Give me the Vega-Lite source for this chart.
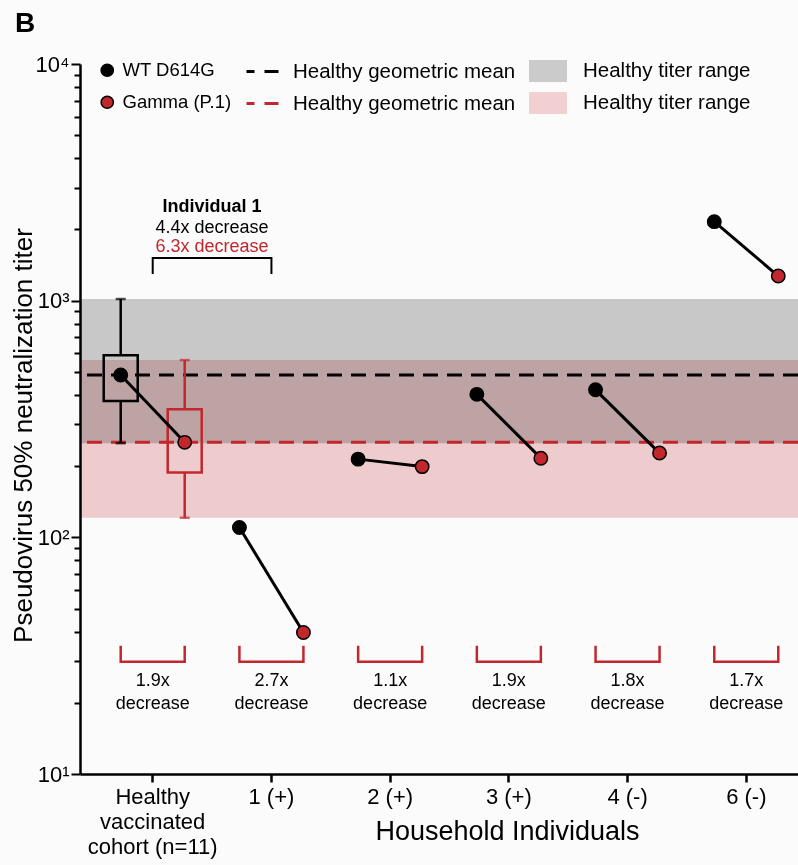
{
  "$schema": "https://vega.github.io/schema/vega-lite/v6.json",
  "width": 718,
  "height": 710,
  "autosize": {"type": "none"},
  "padding": {"left": 80, "top": 64, "right": 0, "bottom": 91},
  "background": "#fbfbfb",
  "title": {"text": "B", "anchor": "start", "frame": "group", "fontSize": 28, "fontWeight": "bold", "color": "#000000", "dx": -65, "offset": 14},
  "config": {
    "font": "Liberation Sans",
    "view": {"stroke": null},
    "axis": {"grid": false, "domainColor": "#000000", "tickColor": "#000000", "labelColor": "#000000", "titleColor": "#000000", "labelFontSize": 22, "titleFontSize": 26, "titleFontWeight": "normal", "domainWidth": 2.5, "tickWidth": 2},
    "legend": {"labelFontSize": 19, "labelColor": "#000000", "padding": 0, "orient": "none", "labelLimit": 400}
  },
  "datasets": {
    "points": [
      {"individual": "Healthy vaccinated cohort (n=11)", "variant": "WT D614G", "titer": 485},
      {"individual": "Healthy vaccinated cohort (n=11)", "variant": "Gamma (P.1)", "titer": 252},
      {"individual": "1 (+)", "variant": "WT D614G", "titer": 110},
      {"individual": "1 (+)", "variant": "Gamma (P.1)", "titer": 39.6},
      {"individual": "2 (+)", "variant": "WT D614G", "titer": 214},
      {"individual": "2 (+)", "variant": "Gamma (P.1)", "titer": 199},
      {"individual": "3 (+)", "variant": "WT D614G", "titer": 402},
      {"individual": "3 (+)", "variant": "Gamma (P.1)", "titer": 216},
      {"individual": "4 (-)", "variant": "WT D614G", "titer": 420},
      {"individual": "4 (-)", "variant": "Gamma (P.1)", "titer": 227},
      {"individual": "6 (-)", "variant": "WT D614G", "titer": 2157},
      {"individual": "6 (-)", "variant": "Gamma (P.1)", "titer": 1271}
    ],
    "box": [
      {"individual": "Healthy vaccinated cohort (n=11)", "variant": "WT D614G", "min": 250, "q1": 377, "q3": 588, "max": 1016},
      {"individual": "Healthy vaccinated cohort (n=11)", "variant": "Gamma (P.1)", "min": 121, "q1": 188, "q3": 348, "max": 561}
    ],
    "folds": [
      {"individual": "Healthy vaccinated cohort (n=11)", "label": "1.9x decrease"},
      {"individual": "1 (+)", "label": "2.7x decrease"},
      {"individual": "2 (+)", "label": "1.1x decrease"},
      {"individual": "3 (+)", "label": "1.9x decrease"},
      {"individual": "4 (-)", "label": "1.8x decrease"},
      {"individual": "6 (-)", "label": "1.7x decrease"}
    ],
    "bands": [
      {"band": "WT range", "lo": 250, "hi": 1016},
      {"band": "Gamma range", "lo": 121, "hi": 561}
    ],
    "means": [
      {"series": "WT mean", "titer": 485},
      {"series": "Gamma mean", "titer": 252}
    ],
    "ann": [
      {"individual": "Healthy vaccinated cohort (n=11)"},
      {"individual": "1 (+)"}
    ]
  },
  "layer": [
    {
      "data": {"name": "bands"},
      "mark": {"type": "rect", "blend": "multiply"},
      "encoding": {
        "y": {"field": "lo", "type": "quantitative",
          "scale": {"type": "log", "domain": [10, 10000], "nice": false},
          "axis": {
            "title": "Pseudovirus 50% neutralization titer",
            "values": [10,20,30,40,50,60,70,80,90,100,200,300,400,500,600,700,800,900,1000,2000,3000,4000,5000,6000,7000,8000,9000,10000],
            "labelExpr": "datum.value == 10 ? '10¹' : datum.value == 100 ? '10²' : datum.value == 1000 ? '10³' : datum.value == 10000 ? '10⁴' : ''",
            "labelOverlap": false,
            "labelPadding": 2,
            "tickSize": {"condition": {"test": "datum.value == 10 || datum.value == 100 || datum.value == 1000 || datum.value == 10000", "value": 9}, "value": 6},
            "titleX": -49,
            "titleY": 371,
            "titleAlign": "center",
            "titleBaseline": "alphabetic"
          }
        },
        "y2": {"field": "hi"},
        "color": {"field": "band", "type": "nominal",
          "scale": {"domain": ["WT range", "Gamma range"], "range": ["#cbcbcb", "#f2d0d1"]},
          "legend": {"title": null, "legendX": 449, "legendY": -12, "symbolType": "M-1,-0.58H1V0.58H-1Z", "symbolSize": 1444, "symbolStrokeWidth": 0, "labelOffset": 16, "rowPadding": 1, "labelFontSize": 20.5, "labelExpr": "'Healthy titer range'"}
        }
      }
    },
    {
      "data": {"name": "means"},
      "mark": {"type": "rule", "strokeDash": [15, 9], "strokeWidth": 3},
      "encoding": {
        "y": {"field": "titer", "type": "quantitative", "scale": {"type": "log", "domain": [10, 10000], "nice": false}},
        "stroke": {"field": "series", "type": "nominal",
          "scale": {"domain": ["WT mean", "Gamma mean"], "range": ["#000000", "#c1272d"]},
          "legend": {"title": null, "legendX": 165, "legendY": -10, "symbolType": "stroke", "symbolSize": 1024, "symbolStrokeWidth": 3, "symbolDash": [14, 10], "symbolDashOffset": 6, "labelOffset": 13, "rowPadding": 4, "labelFontSize": 20.5, "labelExpr": "'Healthy geometric mean'"}
        }
      }
    },
    {
      "encoding": {
        "x": {"field": "individual", "type": "nominal", "sort": null,
          "scale": {"domain": ["Healthy vaccinated cohort (n=11)", "1 (+)", "2 (+)", "3 (+)", "4 (-)", "6 (-)"], "range": [0, 739], "paddingInner": 0, "paddingOuter": 0.1125},
          "axis": {"title": "Household Individuals", "labelAngle": 0, "tickSize": 8, "tickWidth": 2.5, "labelPadding": 4, "labelLineHeight": 25, "labelOverlap": false,
            "labelExpr": "datum.value == 'Healthy vaccinated cohort (n=11)' ? ['Healthy', 'vaccinated', 'cohort (n=11)'] : datum.value",
            "titleX": 427, "titleY": 57, "titleBaseline": "middle", "titleAlign": "center", "titleFontSize": 27}
        }
      },
      "layer": [
        {
          "data": {"name": "box"},
          "encoding": {
            "xOffset": {"field": "variant", "type": "nominal", "scale": {"domain": ["WT D614G", "Gamma (P.1)"], "range": [-4.65, 123.35], "paddingInner": 0, "paddingOuter": 0}},
            "color": {"field": "variant", "type": "nominal", "scale": {"domain": ["WT D614G", "Gamma (P.1)"], "range": ["#000000", "#c1272d"]}, "legend": null}
          },
          "layer": [
            {"mark": {"type": "rule", "strokeWidth": 2.5},
             "encoding": {"y": {"field": "q3", "type": "quantitative", "scale": {"type": "log", "domain": [10, 10000], "nice": false}}, "y2": {"field": "max"}}},
            {"mark": {"type": "rule", "strokeWidth": 2.5},
             "encoding": {"y": {"field": "min", "type": "quantitative", "scale": {"type": "log", "domain": [10, 10000], "nice": false}}, "y2": {"field": "q1"}}},
            {"mark": {"type": "bar", "filled": false, "strokeWidth": 2.5, "width": 34},
             "encoding": {"y": {"field": "q1", "type": "quantitative", "scale": {"type": "log", "domain": [10, 10000], "nice": false}}, "y2": {"field": "q3"}}},
            {"mark": {"type": "tick", "thickness": 2.5, "size": 10},
             "encoding": {"y": {"field": "max", "type": "quantitative", "scale": {"type": "log", "domain": [10, 10000], "nice": false}}}},
            {"mark": {"type": "tick", "thickness": 2.5, "size": 10},
             "encoding": {"y": {"field": "min", "type": "quantitative", "scale": {"type": "log", "domain": [10, 10000], "nice": false}}}}
          ]
        },
        {
          "data": {"name": "points"},
          "mark": {"type": "rule", "color": "#c1272d", "strokeWidth": 2.5, "strokeCap": "square"},
          "encoding": {
            "xOffset": {"field": "variant", "type": "nominal", "scale": {"domain": ["WT D614G", "Gamma (P.1)"], "range": [-4.65, 123.35], "paddingInner": 0, "paddingOuter": 0}},
            "y": {"datum": 34.4, "scale": {"type": "log", "domain": [10, 10000], "nice": false}},
            "y2": {"datum": 29.8}
          }
        },
        {
          "data": {"name": "points"},
          "mark": {"type": "line", "color": "#c1272d", "strokeWidth": 2.5},
          "encoding": {
            "xOffset": {"field": "variant", "type": "nominal", "scale": {"domain": ["WT D614G", "Gamma (P.1)"], "range": [-4.65, 123.35], "paddingInner": 0, "paddingOuter": 0}},
            "y": {"datum": 29.8, "scale": {"type": "log", "domain": [10, 10000], "nice": false}},
            "detail": {"field": "individual"}
          }
        },
        {
          "data": {"name": "folds"},
          "mark": {"type": "text", "fontSize": 18, "lineBreak": " ", "lineHeight": 23, "baseline": "middle", "color": "#000000"},
          "encoding": {
            "y": {"datum": 24.8, "scale": {"type": "log", "domain": [10, 10000], "nice": false}},
            "text": {"field": "label"}
          }
        },
        {
          "data": {"name": "points"},
          "mark": {"type": "line", "color": "#000000", "strokeWidth": 3},
          "encoding": {
            "xOffset": {"field": "variant", "type": "nominal", "scale": {"domain": ["WT D614G", "Gamma (P.1)"], "range": [-4.65, 123.35], "paddingInner": 0, "paddingOuter": 0}},
            "y": {"field": "titer", "type": "quantitative", "scale": {"type": "log", "domain": [10, 10000], "nice": false}},
            "detail": {"field": "individual"}
          }
        },
        {
          "data": {"name": "points"},
          "mark": {"type": "point", "filled": true, "stroke": "#000000", "strokeWidth": 1.5, "size": 180, "opacity": 1},
          "encoding": {
            "xOffset": {"field": "variant", "type": "nominal", "scale": {"domain": ["WT D614G", "Gamma (P.1)"], "range": [-4.65, 123.35], "paddingInner": 0, "paddingOuter": 0}},
            "y": {"field": "titer", "type": "quantitative", "scale": {"type": "log", "domain": [10, 10000], "nice": false}},
            "fill": {"field": "variant", "type": "nominal",
              "scale": {"domain": ["WT D614G", "Gamma (P.1)"], "range": ["#000000", "#c1272d"]},
              "legend": {"title": null, "legendX": 18, "legendY": -3, "symbolType": "circle", "symbolSize": 150, "symbolStrokeColor": "#000000", "symbolStrokeWidth": 1.5, "labelOffset": 6, "rowPadding": 13, "labelFontSize": 18.5}
            }
          }
        },
        {
          "data": {"name": "ann"},
          "mark": {"type": "rule", "color": "#000000", "strokeWidth": 2, "strokeCap": "square"},
          "encoding": {
            "y": {"datum": 1514, "scale": {"type": "log", "domain": [10, 10000], "nice": false}},
            "y2": {"datum": 1309}
          }
        },
        {
          "data": {"name": "ann"},
          "mark": {"type": "line", "color": "#000000", "strokeWidth": 2},
          "encoding": {
            "y": {"datum": 1514, "scale": {"type": "log", "domain": [10, 10000], "nice": false}}
          }
        },
        {
          "data": {"values": [{}]},
          "mark": {"type": "text", "fontSize": 18, "fontWeight": "bold", "baseline": "middle", "color": "#000000", "text": "Individual 1"},
          "encoding": {
            "x": {"datum": "Healthy vaccinated cohort (n=11)", "bandPosition": 1},
            "y": {"datum": 2488, "scale": {"type": "log", "domain": [10, 10000], "nice": false}}
          }
        },
        {
          "data": {"values": [{}]},
          "mark": {"type": "text", "fontSize": 18, "baseline": "middle", "color": "#000000", "text": "4.4x decrease"},
          "encoding": {
            "x": {"datum": "Healthy vaccinated cohort (n=11)", "bandPosition": 1},
            "y": {"datum": 2028, "scale": {"type": "log", "domain": [10, 10000], "nice": false}}
          }
        },
        {
          "data": {"values": [{}]},
          "mark": {"type": "text", "fontSize": 18, "baseline": "middle", "color": "#c1272d", "text": "6.3x decrease"},
          "encoding": {
            "x": {"datum": "Healthy vaccinated cohort (n=11)", "bandPosition": 1},
            "y": {"datum": 1686, "scale": {"type": "log", "domain": [10, 10000], "nice": false}}
          }
        }
      ]
    }
  ],
  "resolve": {"scale": {"color": "independent"}, "legend": {"color": "independent"}}
}
